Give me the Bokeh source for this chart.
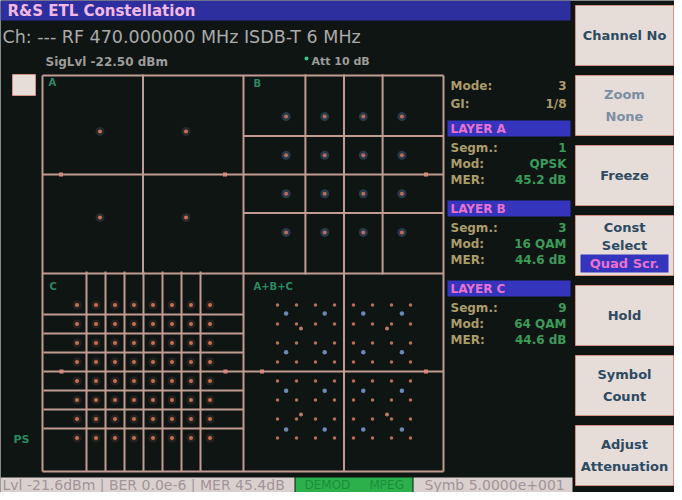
from bokeh.plotting import figure
from bokeh.models import Range1d
from bokeh.core.properties import value
from bokeh.embed import file_html
from bokeh.resources import INLINE

# ---------------- data ----------------
title_text = "R&S ETL Constellation"
channel_line = "Ch: --- RF 470.000000 MHz ISDB-T 6 MHz"
sig_level = "SigLvl -22.50 dBm"
attenuation = "Att 10 dB"
mode_labels = ["Mode:", "GI:"]
mode_values = ["3", "1/8"]
layer_names = ["LAYER A", "LAYER B", "LAYER C"]
row_labels = ["Segm.:", "Mod:", "MER:"]
layer_segments = ["1", "3", "9"]
layer_modulations = ["QPSK", "16 QAM", "64 QAM"]
layer_mer = ["45.2 dB", "44.6 dB", "44.6 dB"]
panel_labels = ["A", "B", "C", "A+B+C"]
softkeys = [["Channel No"], ["Zoom", "None"], ["Freeze"], ["Const", "Select", "Quad Scr."],
            ["Hold"], ["Symbol", "Count"], ["Adjust", "Attenuation"]]
status_text = "Lvl -21.6dBm | BER 0.0e-6 | MER 45.4dB"
status_demod = ["DEMOD", "MPEG"]
status_symb = "Symb 5.0000e+001"

qpsk_levels = [-1, 1]
qam16_levels = [-3, -1, 1, 3]
qam64_levels = [-7, -5, -3, -1, 1, 3, 5, 7]

# ---------------- style ----------------
BG = "#0f1513"
LINE = "#c29c92"
BLUE = "#2d2f9e"
LBLUE = "#3434bc"
PINK = "#e872d0"
KHAKI = "#ab9c6c"
GREEN = "#3c9a5a"
LGREEN = "#2a8a62"
BTN = "#e6dcd8"
BTN_EDGE = "#d49082"
BTN_TXT = "#2c4a62"
FONT = value("DejaVu Sans")

p = figure(width=674, height=492, x_range=Range1d(8, 682), y_range=Range1d(500, 8),
           output_backend="svg", toolbar_location=None,
           x_axis_location=None, y_axis_location=None, min_border=0,
           outline_line_color=None, background_fill_color=BG, border_fill_color=BG)
for g in p.grid:
    g.visible = False


def txt(xs, ys, texts, size, color, bold=False, align="left"):
    p.text(x=xs, y=ys, text=texts, text_font=FONT, text_font_size=value(size),
           text_font_style="bold" if bold else "normal", text_color=color,
           text_align=align, text_baseline="middle")


# ---------------- header ----------------
p.quad(left=[8], right=[578], top=[8], bottom=[28], fill_color=BLUE, line_color=None)
txt([15], [18.5], [title_text], "15px", "#f2b8e4", bold=True)
txt([10], [44], [channel_line], "17.5px", "#ababab")
txt([53], [69], [sig_level], "12px", "#9c9c9c", bold=True)
p.scatter(x=[314], y=[66], size=4, fill_color="#36c88a", line_color=None)
txt([319], [69], [attenuation], "11px", "#9c9c9c", bold=True)

# small square button on the left
p.quad(left=[20], right=[43], top=[82], bottom=[103], fill_color=BTN, line_color=BTN_EDGE, line_width=1)
txt([21], [447], ["PS"], "11px", LGREEN, bold=True)

# ---------------- constellation panels ----------------
X0, X1, X2 = 50, 251, 451
Y0, Y1, Y2 = 83, 281, 479
p.segment(x0=[X0, X1, X2, X0, X0, X0], y0=[Y0, Y0, Y0, Y0, Y1, Y2],
          x1=[X0, X1, X2, X2, X2, X2], y1=[Y2, Y2, Y2, Y0, Y1, Y2],
          line_color=LINE, line_width=2)

HALF = 100  # half panel size in px
panels = {  # name: (center x, center y)
    "A": (150.5, 182), "B": (351.5, 182), "C": (151, 379), "ABC": (351.5, 379)}
scales = {"qpsk": 43, "qam16": 19.3, "qam64": 9.5}   # px per constellation unit


def rng(panel, mod):
    cx, cy = panels[panel]
    s = scales[mod]
    name = f"{panel}_{mod}"
    p.extra_x_ranges[name] = Range1d((8 - cx) / s, (682 - cx) / s)
    p.extra_y_ranges[name] = Range1d((cy - 500) / s, (cy - 8) / s)
    return name, HALF / s


def boundaries(levels):
    return [(a + b) / 2 for a, b in zip(levels[:-1], levels[1:])]


def grid_lines(panel, mod, levels):
    name, h = rng(panel, mod)
    b = boundaries(levels)
    p.segment(x0=b, y0=[-h] * len(b), x1=b, y1=[h] * len(b), line_color=LINE, line_width=2,
              x_range_name=name, y_range_name=name)
    p.segment(x0=[-h] * len(b), y0=b, x1=[h] * len(b), y1=b, line_color=LINE, line_width=2,
              x_range_name=name, y_range_name=name)


def points(panel, mod, levels, color, halo, size=4):
    name, h = rng(panel, mod)
    xs = [i for i in levels for q in levels]
    ys = [q for i in levels for q in levels]
    if halo:
        p.scatter(x=xs, y=ys, size=size + 5, fill_color=halo, fill_alpha=0.55, line_color=None,
                  x_range_name=name, y_range_name=name)
    p.scatter(x=xs, y=ys, size=size, fill_color=color, line_color=None,
              x_range_name=name, y_range_name=name)


def axis_markers(panel, sides):
    cx, cy = panels[panel]
    xs = [cx + 82 * s for s in sides]
    p.scatter(x=xs, y=[cy] * len(xs), size=4, marker="square", fill_color="#d88a78", line_color=None)


grid_lines("A", "qpsk", qpsk_levels)
grid_lines("B", "qam16", qam16_levels)
grid_lines("C", "qam64", qam64_levels)
grid_lines("ABC", "qpsk", qpsk_levels)

points("A", "qpsk", qpsk_levels, "#c8705a", "#3a3a40")
points("B", "qam16", qam16_levels, "#b86c5c", "#3e5a78")
points("C", "qam64", qam64_levels, "#c8704e", "#3a2e2a")
points("ABC", "qam64", qam64_levels, "#b8705a", None, size=3.5)
points("ABC", "qam16", qam16_levels, "#6a88b8", None, size=4.5)
points("ABC", "qpsk", qpsk_levels, "#c07868", None, size=4)

axis_markers("A", [-1, 1])
axis_markers("B", [1])
axis_markers("C", [-1, 1])
axis_markers("ABC", [-1, 1])

txt([56, 261, 57, 261], [90, 91, 294, 294], panel_labels, "10px", LGREEN, bold=True)

# ---------------- info column ----------------
txt([458, 458], [93, 111], mode_labels, "12px", KHAKI, bold=True)
txt([574, 574], [93, 111], mode_values, "12px", KHAKI, bold=True, align="right")
bar_y = [136, 216, 296]
p.quad(left=[455] * 3, right=[578] * 3, top=[y - 8 for y in bar_y], bottom=[y + 8 for y in bar_y],
       fill_color=LBLUE, line_color=None)
txt([458] * 3, bar_y, layer_names, "12px", PINK, bold=True)
ry = [y + 19 + 16 * k for y in bar_y for k in range(3)]
txt([458] * 9, ry, row_labels * 3, "12px", KHAKI, bold=True)
vals = []
for s, m, e in zip(layer_segments, layer_modulations, layer_mer):
    vals += [s, m, e]
txt([574] * 9, ry, vals, "12px", GREEN, bold=True, align="right")

# ---------------- soft keys ----------------
tops = [13 + 70 * i for i in range(len(softkeys))]
p.quad(left=[583] * 7, right=[681] * 7, top=tops, bottom=[t + 60 for t in tops],
       fill_color=BTN, line_color=BTN_EDGE, line_width=1)
for t, lines in zip(tops, softkeys):
    n = len(lines)
    sp = 22 if n == 2 else 18
    cy = t + 30
    for i, line in enumerate(lines):
        y = cy + (i - (n - 1) / 2) * sp
        if line == "Quad Scr.":
            p.quad(left=[588], right=[676], top=[y - 9], bottom=[y + 9], fill_color=LBLUE, line_color=None)
            txt([632], [y], [line], "13px", PINK, bold=True, align="center")
        else:
            col = "#7c8ea2" if lines[0] == "Zoom" else BTN_TXT
            txt([632], [y], [line], "13px", col, bold=True, align="center")

# ---------------- status bar ----------------
p.quad(left=[8, 303, 421], right=[302, 420, 580], top=[485] * 3, bottom=[500] * 3,
       fill_color=["#dad1ce", "#2cb04c", "#dad1ce"], line_color=None)
txt([10], [492.5], [status_text], "14px", "#a3939b")
txt([312, 377], [492.5, 492.5], status_demod, "12px", "#1c8e3a")
txt([432], [492.5], [status_symb], "14px", "#a3939b")

open("out.html", "w").write(file_html(p, INLINE))
